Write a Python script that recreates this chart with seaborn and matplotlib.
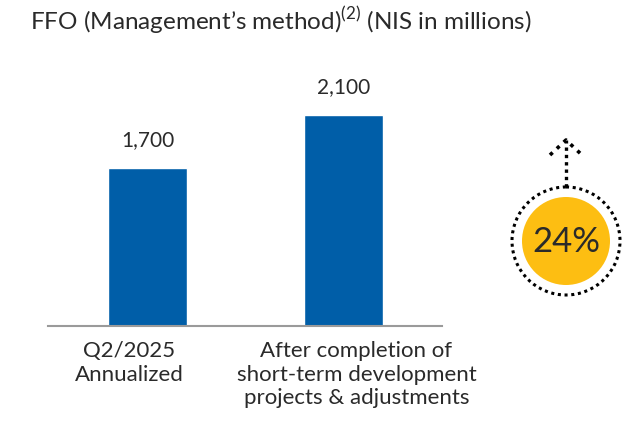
import matplotlib
matplotlib.use("Agg")
import matplotlib.pyplot as plt
import matplotlib.transforms as mtransforms
from matplotlib.patches import Circle
import seaborn as sns
import pandas as pd

categories = ["Q2/2025\nAnnualized",
              "After completion of\nshort-term development\nprojects & adjustments"]
values = [1700, 2100]
value_labels = ["1,700", "2,100"]
growth_label = "24%"
title = "FFO (Management\u2019s method)$^{(2)}$ (NIS in millions)"

blue = "#005EA8"
yellow = "#FDBE12"
text_col = "#2a2a2a"

sns.set_theme(style="white")
plt.rcParams["font.family"] = ["Lato", "DejaVu Sans"]
plt.rcParams["mathtext.fontset"] = "custom"
plt.rcParams["mathtext.rm"] = "Lato"

df = pd.DataFrame({"cat": categories, "val": values})

fig = plt.figure(figsize=(6.26, 4.25), dpi=100)
ax = fig.add_axes([48 / 626, 1 - 326 / 425, 394 / 626, 266 / 425])
sns.barplot(data=df, x="cat", y="val", color=blue, width=0.40, saturation=1, ax=ax)

ax.set_ylim(508, 2516)
ax.set_xlim(-0.508, 1.503)
ax.set_xlabel("")
ax.set_ylabel("")
ax.set_yticks([])
for s in ["top", "right", "left"]:
    ax.spines[s].set_visible(False)
ax.spines["bottom"].set_color("#9a9a9a")
ax.spines["bottom"].set_linewidth(1.5)
ax.tick_params(axis="x", length=0, pad=11, labelsize=16, labelcolor=text_col)
for lab in ax.get_xticklabels():
    lab.set_linespacing(1.22)
shifts = [-18, 13]
for lab, dx in zip(ax.get_xticklabels(), shifts):
    lab.set_transform(lab.get_transform() + mtransforms.ScaledTranslation(dx / 100, 0, fig.dpi_scale_trans))

for p, lbl in zip(ax.patches, value_labels):
    ax.annotate(lbl, (p.get_x() + p.get_width() / 2, p.get_height()),
                xytext=(0, 20), textcoords="offset points", ha="center", va="center",
                fontsize=15, color=text_col)

fig.text(30 / 626, 1 - 20 / 425, title, fontsize=17.5, color=text_col, va="center", ha="left")

# growth badge
ov = fig.add_axes([0, 0, 1, 1])
ov.set_xlim(0, 626)
ov.set_ylim(425, 0)
ov.axis("off")
ov.set_zorder(-1)
cx, cy = 566, 241
ov.add_patch(Circle((cx, cy), 44, color=yellow, lw=0))
ov.add_patch(Circle((cx, cy), 54, fill=False, ec="black", lw=2.2, ls=(0, (1, 1.2))))
ov.plot([cx, cx], [cy - 54, 140], color="black", lw=2.4, ls=(0, (1, 1.2)))
ov.plot([cx - 16, cx, cx + 16], [155, 140, 155], color="black", lw=2.6, ls=(0, (1, 1.6)))
ov.text(cx, cy + 1, growth_label, fontsize=25, ha="center", va="center", color=text_col)

fig.savefig("out.png", dpi=100)
